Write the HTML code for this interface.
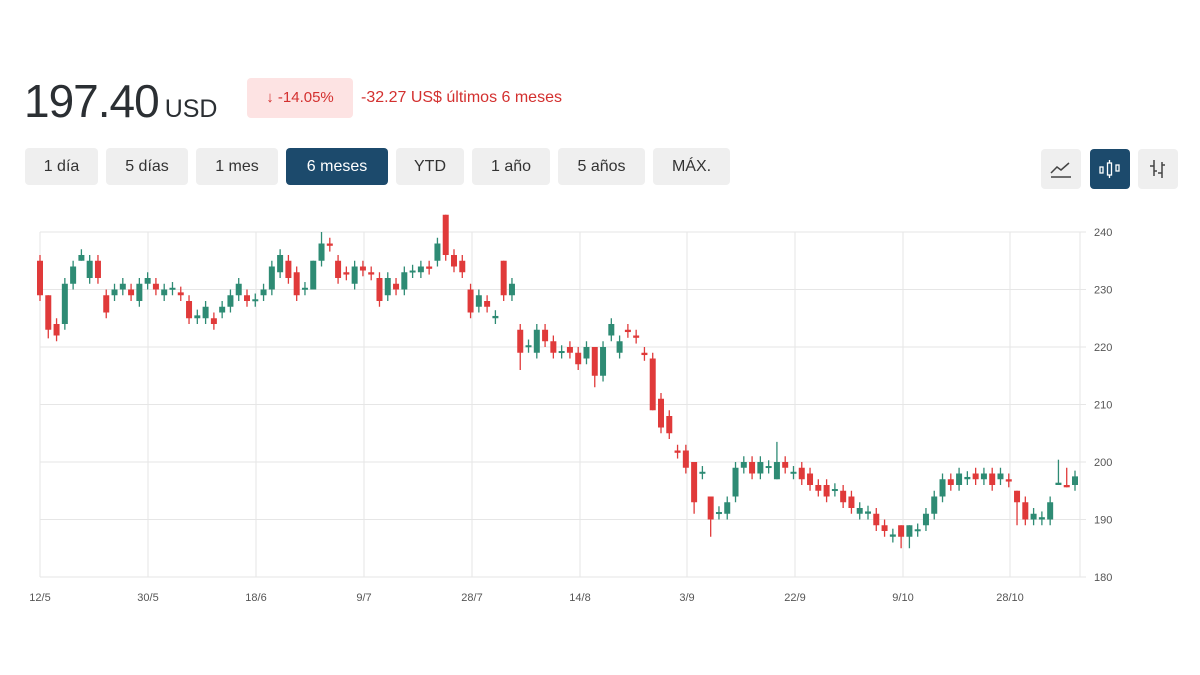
<!DOCTYPE html>
<html><head><meta charset="utf-8"><style>
body{margin:0;width:1200px;height:675px;background:#fff;font-family:"Liberation Sans",sans-serif;position:relative;overflow:hidden}
.abs{position:absolute}
.btn{position:absolute;top:148px;height:37px;background:#efefef;border-radius:4px;color:#333;font-size:16px;line-height:37px;text-align:center}
.on{background:#1c4a6c;color:#fff}
</style></head><body>
<div class="abs" style="left:24px;top:74px;font-size:46px;color:#2b2f33;letter-spacing:-1px">197.40<span style="font-size:25px;letter-spacing:0;margin-left:6px">USD</span></div>
<div class="abs" style="left:247px;top:78px;width:106px;height:40px;background:#fde3e3;border-radius:4px;color:#d3302f;font-size:15px;line-height:40px;text-align:center">↓ -14.05%</div>
<div class="abs" style="left:361px;top:78px;line-height:40px;color:#d3302f;font-size:16px">-32.27 US$ últimos 6 meses</div>
<div class="btn" style="left:25px;width:73px">1 día</div>
<div class="btn" style="left:106px;width:82px">5 días</div>
<div class="btn" style="left:196px;width:82px">1 mes</div>
<div class="btn on" style="left:286px;width:102px">6 meses</div>
<div class="btn" style="left:396px;width:68px">YTD</div>
<div class="btn" style="left:472px;width:78px">1 año</div>
<div class="btn" style="left:558px;width:87px">5 años</div>
<div class="btn" style="left:653px;width:77px">MÁX.</div>
<div class="btn" style="left:1041px;width:40px;top:149px;height:40px"><svg width="40" height="40"><path d="M10 24 L16 18 L20 21 L28 14" stroke="#444" stroke-width="1.5" fill="none"/><line x1="10" y1="28" x2="30" y2="28" stroke="#444" stroke-width="1.5"/></svg></div>
<div class="btn on" style="left:1090px;width:40px;top:149px;height:40px"><svg width="40" height="40"><g stroke="#fff" stroke-width="1.3" fill="none"><rect x="10" y="18" width="3" height="6"/><rect x="17.5" y="14" width="4" height="12"/><rect x="26" y="16" width="3" height="6"/><line x1="19.5" y1="11" x2="19.5" y2="14"/><line x1="19.5" y1="26" x2="19.5" y2="29"/></g></svg></div>
<div class="btn" style="left:1138px;width:40px;top:149px;height:40px"><svg width="40" height="40"><g stroke="#444" stroke-width="1.5"><line x1="16" y1="11" x2="16" y2="27"/><line x1="12" y1="17" x2="16" y2="17"/><line x1="16" y1="22" x2="19" y2="22"/><line x1="24" y1="13" x2="24" y2="29"/><line x1="20" y1="24" x2="24" y2="24"/><line x1="24" y1="16" x2="27" y2="16"/></g></svg></div>
<svg id="c" class="abs" style="left:0;top:0" width="1200" height="675"></svg>
<script>
var d=[[235,229],[229,223],[224,222],[224,231],[231,234],[235,236],[232,235],[235,232],[229,226],[229,230],[230,231],[230,229],[228,231],[231,232],[231,230],[229,230],[230,230.3],[229.5,229],[228,225],[225,225.5],[225,227],[225,224],[226,227],[227,229],[229,231],[229,228],[228,228.3],[229,230],[230,234],[233,236],[235,232],[233,229],[230,230.3],[230,235],[235,238],[238,237.6],[235,232],[233,232.6],[231,234],[234,233.3],[233,232.6],[232,228],[229,232],[231,230],[230,233],[233,233.3],[233,234],[234,233.6],[235,238],[243,236],[236,234],[235,233],[230,226],[227,229],[228,227],[225,225.4],[235,229],[229,231],[223,219],[220,220.3],[219,223],[223,221],[221,219],[219,219.3],[220,219],[219,217],[218,220],[220,215],[215,220],[222,224],[219,221],[223,222.6],[222,221.6],[219,218.6],[218,209],[211,206],[208,205],[202,201.6],[202,199],[200,193],[198,198.3],[194,190],[191,191.3],[191,193],[194,199],[199,200],[200,198],[198,200],[199,199.3],[197,200],[200,199],[198,198.3],[199,197],[198,196],[196,195],[196,194],[195,195.3],[195,193],[194,192],[191,192],[191,191.4],[191,189],[189,188],[187,187.4],[189,187],[187,189],[188,188.3],[189,191],[191,194],[194,197],[197,196],[196,198],[197,197.4],[198,197],[197,198],[198,196],[197,198],[197,196.6],[195,193],[193,190],[190,191],[190,190.4],[190,193],[196,196.4],[196,195.6],[196,197.5]];
var wk={1:[0,1.5],5:[1,0],33:[0,0],34:[2,1],49:[0,1],56:[0,1],58:[1,3],67:[0,2],74:[1,0],79:[0,2],81:[0,3],89:[3.5,0],104:[0,2],105:[0,2],118:[0,4],123:[4,0],124:[3,0]};
function Y(v){return 232+(240-v)*5.75}
var s='';
for(var v=180;v<=240;v+=10){s+='<line x1="40" x2="1086" y1="'+Y(v)+'" y2="'+Y(v)+'" stroke="#e6e6e6"/>';s+='<text x="1094" y="'+(Y(v)+4)+'" font-size="11" fill="#555" font-family="Liberation Sans">'+v+'</text>';}
var xs=[[40,'12/5'],[148,'30/5'],[256,'18/6'],[364,'9/7'],[472,'28/7'],[580,'14/8'],[687,'3/9'],[795,'22/9'],[903,'9/10'],[1010,'28/10']];
xs.forEach(function(a){s+='<line x1="'+a[0]+'" x2="'+a[0]+'" y1="232" y2="577" stroke="#e6e6e6"/><text x="'+a[0]+'" y="601" font-size="11" fill="#555" text-anchor="middle" font-family="Liberation Sans">'+a[1]+'</text>';});
s+='<line x1="1080" x2="1080" y1="232" y2="577" stroke="#e6e6e6"/>';
d.forEach(function(c,i){var x=40+i*8.28,o=c[0],cl=c[1],up=cl>=o,col=up?'#2e8b74':'#e03a3a';var w=wk[i]||[1,1];var h=Math.max(o,cl)+w[0],l=Math.min(o,cl)-w[1];
s+='<line x1="'+x+'" x2="'+x+'" y1="'+Y(h)+'" y2="'+Y(l)+'" stroke="'+col+'" stroke-width="1.3"/>';
var t=Y(Math.max(o,cl)),b=Y(Math.min(o,cl));s+='<rect x="'+(x-3)+'" y="'+t+'" width="6" height="'+Math.max(2,b-t)+'" fill="'+col+'"/>';});
document.getElementById('c').innerHTML=s;
</script>
</body></html>
